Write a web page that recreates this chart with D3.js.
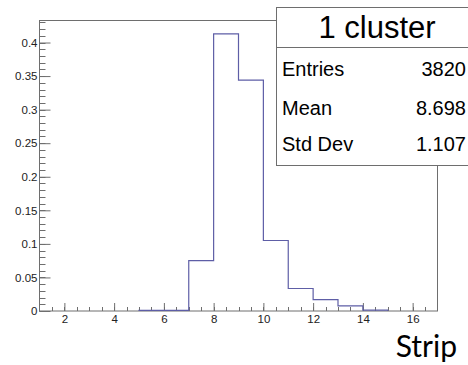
<!DOCTYPE html>
<html>
<head>
<meta charset="utf-8">
<script src="https://cdn.jsdelivr.net/npm/d3@7"></script>
<style>
  body { margin: 0; background: #fff; }
  svg { display: block; }
</style>
</head>
<body>
<svg id="chart" width="468" height="365"></svg>
<script>
// bin lower edges and normalized contents
const binEdges = [5, 6, 7, 8, 9, 10, 11, 12, 13, 14, 15];
const binValues = [0.0008, 0.001, 0.075, 0.413, 0.344, 0.105, 0.0335, 0.017, 0.0075, 0.0012];
const xTicks = [2, 4, 6, 8, 10, 12, 14, 16];
const yTicks = [0, 0.05, 0.1, 0.15, 0.2, 0.25, 0.3, 0.35, 0.4];
const statsTitle = '1 cluster';
const statsLabels = ['Entries', 'Mean', 'Std Dev'];
const statsValues = ['3820', '8.698', '1.107'];
const xTitle = 'Strip';

const svg = d3.select('#chart');
const fLeft = 39.5, fRight = 437.5, fTop = 20.5, fBottom = 311;

const x = d3.scaleLinear().domain([1, 17]).range([fLeft, fRight]);
const y = d3.scaleLinear().domain([0, 0.4328]).range([fBottom, fTop]);

const axisColor = '#6e6e6e';
const font = '"Liberation Sans", Arial, sans-serif';

// frame
svg.append('rect')
    .attr('x', fLeft).attr('y', fTop)
    .attr('width', fRight - fLeft).attr('height', fBottom - fTop)
    .attr('fill', 'none').attr('stroke', axisColor).attr('stroke-width', 1);

// minor ticks y (every 0.01)
const yMinor = d3.range(0, 0.4301, 0.01);
svg.append('g').selectAll('line').data(yMinor).enter().append('line')
    .attr('x1', fLeft).attr('x2', fLeft + 6)
    .attr('y1', d => Math.round(y(d)) + 0.5).attr('y2', d => Math.round(y(d)) + 0.5)
    .attr('stroke', axisColor);

// major y axis
const yAxis = svg.append('g')
    .attr('transform', `translate(${fLeft},0)`)
    .call(d3.axisRight(y).tickValues(yTicks).tickSize(11).tickFormat(d => d3.format('~g')(d)));
yAxis.select('.domain').remove();
yAxis.selectAll('line').attr('stroke', axisColor);
yAxis.selectAll('text')
    .attr('x', -2).attr('text-anchor', 'end')
    .attr('font-family', font).attr('font-size', 11.5).attr('fill', '#222');

// minor ticks x (every 0.5)
const xMinor = d3.range(1.5, 17, 0.5);
svg.append('g').selectAll('line').data(xMinor).enter().append('line')
    .attr('x1', d => Math.round(x(d)) + 0.5).attr('x2', d => Math.round(x(d)) + 0.5)
    .attr('y1', fBottom).attr('y2', fBottom - 4)
    .attr('stroke', axisColor);

const xAxis = svg.append('g')
    .attr('transform', `translate(0,${fBottom})`)
    .call(d3.axisTop(x).tickValues(xTicks).tickSize(8).tickFormat(d3.format('d')));
xAxis.select('.domain').remove();
xAxis.selectAll('line').attr('stroke', axisColor);
xAxis.selectAll('text')
    .attr('y', 12).attr('dy', null)
    .attr('font-family', font).attr('font-size', 11.5).attr('fill', '#222');

// histogram outline
const pts = [];
binValues.forEach((v, i) => {
    pts.push([binEdges[i], v]);
    pts.push([binEdges[i + 1], v]);
});
pts.unshift([binEdges[0], 0]);
pts.push([binEdges[binEdges.length - 1], 0]);

const line = d3.line().x(d => x(d[0])).y(d => y(d[1]));
svg.append('path')
    .datum(pts)
    .attr('d', line)
    .attr('fill', 'none')
    .attr('stroke', '#5e5ea6')
    .attr('stroke-width', 1.2);

// stats box
const bx = 276.5, by = 7.5, bw = 210, bh = 158;
svg.append('rect')
    .attr('x', bx).attr('y', by).attr('width', bw).attr('height', bh)
    .attr('fill', '#fff').attr('stroke', axisColor);
svg.append('line')
    .attr('x1', bx).attr('x2', bx + bw)
    .attr('y1', 47.5).attr('y2', 47.5)
    .attr('stroke', axisColor);
svg.append('text')
    .attr('x', 377).attr('y', 38)
    .attr('text-anchor', 'middle')
    .attr('font-family', font).attr('font-size', 31)
    .attr('fill', '#000')
    .text(statsTitle);

const rowY = [76, 115, 151];
svg.append('g').selectAll('text').data(statsLabels).enter().append('text')
    .attr('x', 282).attr('y', (d, i) => rowY[i])
    .attr('font-family', font).attr('font-size', 20).attr('fill', '#000')
    .text(d => d);
svg.append('g').selectAll('text').data(statsValues).enter().append('text')
    .attr('x', 466).attr('y', (d, i) => rowY[i])
    .attr('text-anchor', 'end')
    .attr('font-family', font).attr('font-size', 20).attr('fill', '#000')
    .text(d => d);

// x title
svg.append('text')
    .attr('x', 457).attr('y', 357)
    .attr('text-anchor', 'end')
    .attr('font-family', 'Lato, "Open Sans", sans-serif')
    .attr('font-size', 30)
    .attr('fill', '#000')
    .text(xTitle);
</script>
</body>
</html>
